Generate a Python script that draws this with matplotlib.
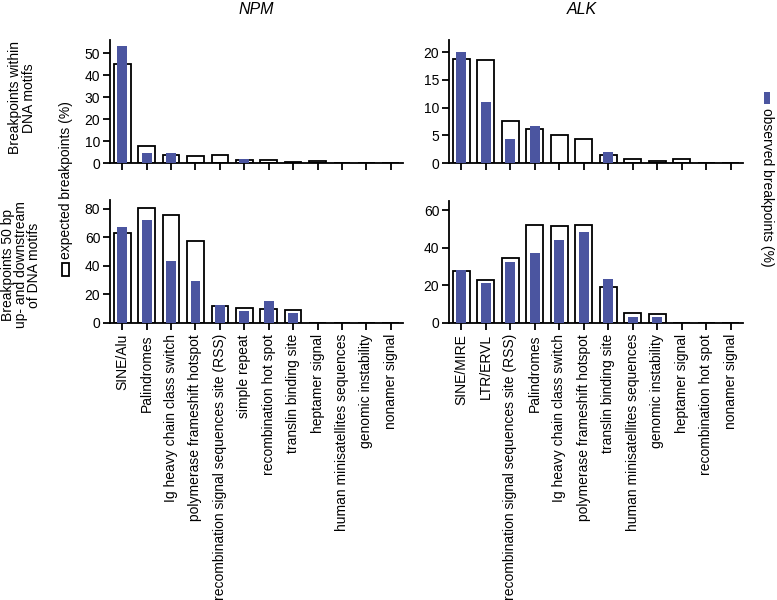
import matplotlib
matplotlib.use("Agg")
import matplotlib.pyplot as plt
from matplotlib.patches import Rectangle
import numpy as np

fam = "Liberation Sans"
plt.rcParams['font.family'] = [fam, 'DejaVu Sans']

npm_cats = ["SINE/Alu", "Palindromes", "Ig heavy chain class switch",
            "polymerase frameshift hotspot", "recombination signal sequences site (RSS)",
            "simple repeat", "recombination hot spot", "translin binding site",
            "heptamer signal", "human minisatellites sequences", "genomic instability",
            "nonamer signal"]
alk_cats = ["SINE/MIRE", "LTR/ERVL", "recombination signal sequences site (RSS)",
            "Palindromes", "Ig heavy chain class switch", "polymerase frameshift hotspot",
            "translin binding site", "human minisatellites sequences", "genomic instability",
            "heptamer signal", "recombination hot spot", "nonamer signal"]

npm_within_exp = [44.9, 7.9, 3.6, 3.3, 3.6, 1.5, 1.3, 0.6, 0.7, 0, 0, 0]
npm_within_obs = [53.4, 4.5, 4.5, 0, 0, 2.0, 0, 0, 0, 0, 0, 0]
alk_within_exp = [18.7, 18.6, 7.6, 6.1, 5.0, 4.3, 1.4, 0.8, 0.4, 0.7, 0, 0]
alk_within_obs = [20.0, 11.1, 4.4, 6.6, 0, 0, 2.0, 0, 0, 0, 0, 0]
npm_flank_exp = [62.9, 80.4, 75.8, 57.3, 12.1, 10.3, 9.8, 9.1, 0, 0, 0, 0]
npm_flank_obs = [67.1, 71.8, 43.6, 29.1, 12.8, 8.4, 15.6, 6.8, 0, 0, 0, 0]
alk_flank_exp = [27.7, 22.9, 34.6, 52.0, 51.5, 52.2, 19.2, 5.2, 5.0, 0, 0, 0]
alk_flank_obs = [28.4, 21.5, 32.5, 37.3, 44.2, 48.5, 23.4, 3.4, 3.4, 0, 0, 0]

blue = "#4b55a0"
W, H = 777, 600
fig = plt.figure(figsize=(W / 100, H / 100), dpi=100)

def ax_px(x0, y0, x1, y1):
    return fig.add_axes([x0 / W, 1 - y1 / H, (x1 - x0) / W, (y1 - y0) / H])

panels = [
    (ax_px(110, 40, 403, 163), npm_cats, npm_within_exp, npm_within_obs, 56, [0, 10, 20, 30, 40, 50], False),
    (ax_px(449, 40, 743, 163), alk_cats, alk_within_exp, alk_within_obs, 22.2, [0, 5, 10, 15, 20], False),
    (ax_px(110, 200, 403, 323), npm_cats, npm_flank_exp, npm_flank_obs, 86, [0, 20, 40, 60, 80], True),
    (ax_px(449, 201, 743, 323), alk_cats, alk_flank_exp, alk_flank_obs, 65, [0, 20, 40, 60], True),
]

fs = 10
for ax, cats, exp, obs, ytop, yt, show in panels:
    x = np.arange(len(cats))
    ax.bar(x, exp, width=0.68, color="white", edgecolor="black", linewidth=1.3, zorder=2)
    ax.bar(x, obs, width=0.4, color=blue, edgecolor="none", zorder=3)
    ax.set_xlim(-0.5, 11.5)
    ax.set_ylim(0, ytop)
    ax.set_yticks(yt)
    ax.set_xticks(x)
    if show:
        ax.set_xticklabels(cats, rotation=90, fontsize=9.4)
    else:
        ax.set_xticklabels([])
    for s in ["top", "right"]:
        ax.spines[s].set_visible(False)
    for s in ["left", "bottom"]:
        ax.spines[s].set_linewidth(1.3)
    ax.tick_params(axis="both", direction="out", length=5, width=1.3, labelsize=fs, pad=2)
    ax.tick_params(axis="x", pad=3)

fig.text(256 / W, 1 - 9 / H, "NPM", ha="center", va="center", fontsize=11.5, style="italic")
fig.text(582 / W, 1 - 9 / H, "ALK", ha="center", va="center", fontsize=11.5, style="italic")

fig.text(22 / W, 1 - 98 / H, "Breakpoints within\nDNA motifs", rotation=90,
         ha="center", va="center", fontsize=fs, linespacing=0.95)
fig.text(21 / W, 1 - 265 / H, "Breakpoints 50 bp\nup- and downstream\nof DNA motifs", rotation=90,
         ha="center", va="center", fontsize=fs, linespacing=0.95)

# legend keys
fig.add_artist(Rectangle((62 / W, 1 - 276 / H), 7 / W, 13 / H, transform=fig.transFigure,
                         facecolor="white", edgecolor="black", linewidth=1.3))
fig.text(66 / W, 1 - 259 / H, "expected breakpoints (%)", rotation=90,
         ha="center", va="bottom", fontsize=fs)
fig.add_artist(Rectangle((764 / W, 1 - 104 / H), 6 / W, 12 / H, transform=fig.transFigure,
                         facecolor=blue, edgecolor="none"))
fig.text(767 / W, 1 - 108 / H, "observed breakpoints (%)", rotation=-90,
         ha="center", va="top", fontsize=fs, color="black")

fig.savefig("out.png", dpi=100)
